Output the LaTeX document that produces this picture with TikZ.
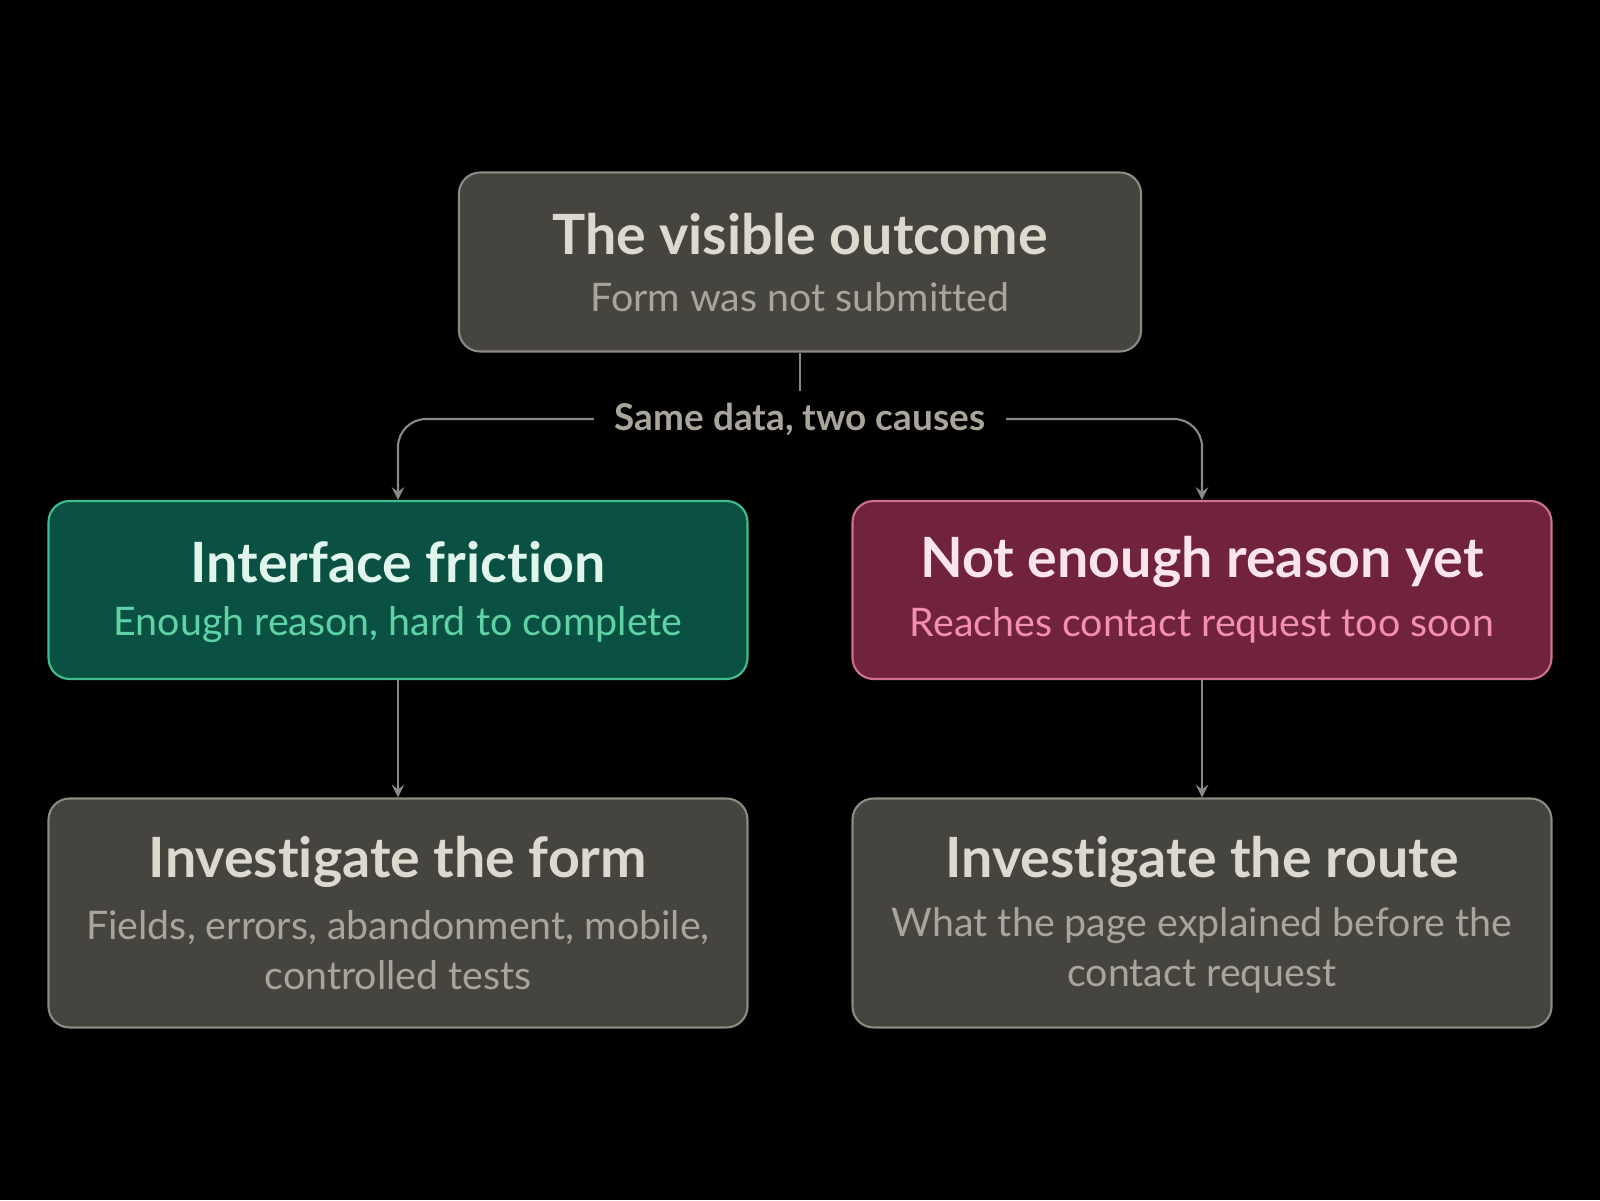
\documentclass[tikz,border=0pt]{standalone}
\usepackage{fontspec}
\setmainfont{Lato}[Ligatures={NoCommon,NoRare,NoContextual}]
\usetikzlibrary{positioning}
\definecolor{bg}{HTML}{000000}
\definecolor{greyfill}{HTML}{45443F}
\definecolor{greyline}{HTML}{8C8A82}
\definecolor{greytitle}{HTML}{DDD9CE}
\definecolor{greysub}{HTML}{A9A59A}
\definecolor{greenfill}{HTML}{0A5143}
\definecolor{greenline}{HTML}{3FBF90}
\definecolor{greentitle}{HTML}{E0F5EC}
\definecolor{greensub}{HTML}{5FD3A5}
\definecolor{redfill}{HTML}{71233E}
\definecolor{redline}{HTML}{D07090}
\definecolor{redtitle}{HTML}{FCE4EC}
\definecolor{redsub}{HTML}{F48FB1}
\definecolor{wire}{HTML}{8A8A85}
\begin{document}
\begin{tikzpicture}[
    box/.style={rectangle, rounded corners=6pt, semithick, minimum width=6.99cm, align=center, inner sep=0pt},
    grey/.style={box, fill=greyfill, draw=greyline},
    green/.style={box, fill=greenfill, draw=greenline},
    red/.style={box, fill=redfill, draw=redline},
    ttl/.style={font=\fontsize{15.8}{19}\selectfont\bfseries, align=center},
    sub/.style={font=\fontsize{11.2}{14.3}\selectfont, align=center},
    arrow/.style={->, semithick, draw=wire, >=stealth, rounded corners=8pt}
]
\fill[bg] (0,0) rectangle (16,12);
\useasboundingbox (0,0) rectangle (16,12);

\node[grey, minimum width=6.82cm, minimum height=1.79cm] (outcome) at (8.0,9.38) {};
\node[ttl, text=greytitle] at (8.0,9.66) {The visible outcome};
\node[sub, text=greysub] at (8.0,9.03) {Form was not submitted};

\node[green, minimum height=1.78cm] (friction) at (3.98,6.10) {};
\node[ttl, text=greentitle] at (3.98,6.38) {Interface friction};
\node[sub, text=greensub] at (3.98,5.75) {Enough reason, hard to complete};

\node[red, minimum height=1.78cm] (reason) at (12.02,6.10) {};
\node[ttl, text=redtitle] at (12.02,6.38) {Not enough reason yet};
\node[sub, text=redsub] at (12.02,5.75) {Reaches contact request too soon};

\node[grey, minimum height=2.29cm] (form) at (3.98,2.87) {};
\node[ttl, text=greytitle] at (3.98,3.38) {Investigate the form};
\node[sub, text=greysub] at (3.98,2.50) {Fields, errors, abandonment, mobile,\\controlled tests};

\node[grey, minimum height=2.29cm] (route) at (12.02,2.87) {};
\node[ttl, text=greytitle] at (12.02,3.38) {Investigate the route};
\node[sub, text=greysub] at (12.02,2.50) {What the page explained before the\\contact request};

\coordinate (split) at (8.0,7.81);
\draw[semithick, draw=wire] (outcome.south) -- (8.0,8.01);
\draw[arrow] (split) -| (friction.north);
\draw[arrow] (split) -| (reason.north);
\node[fill=bg, inner xsep=6pt, font=\fontsize{10.5}{12}\selectfont\bfseries, text=greysub] (cause) at (split) {Same data, two causes};

\draw[arrow] (friction) -- (form);
\draw[arrow] (reason) -- (route);
\end{tikzpicture}
\end{document}
